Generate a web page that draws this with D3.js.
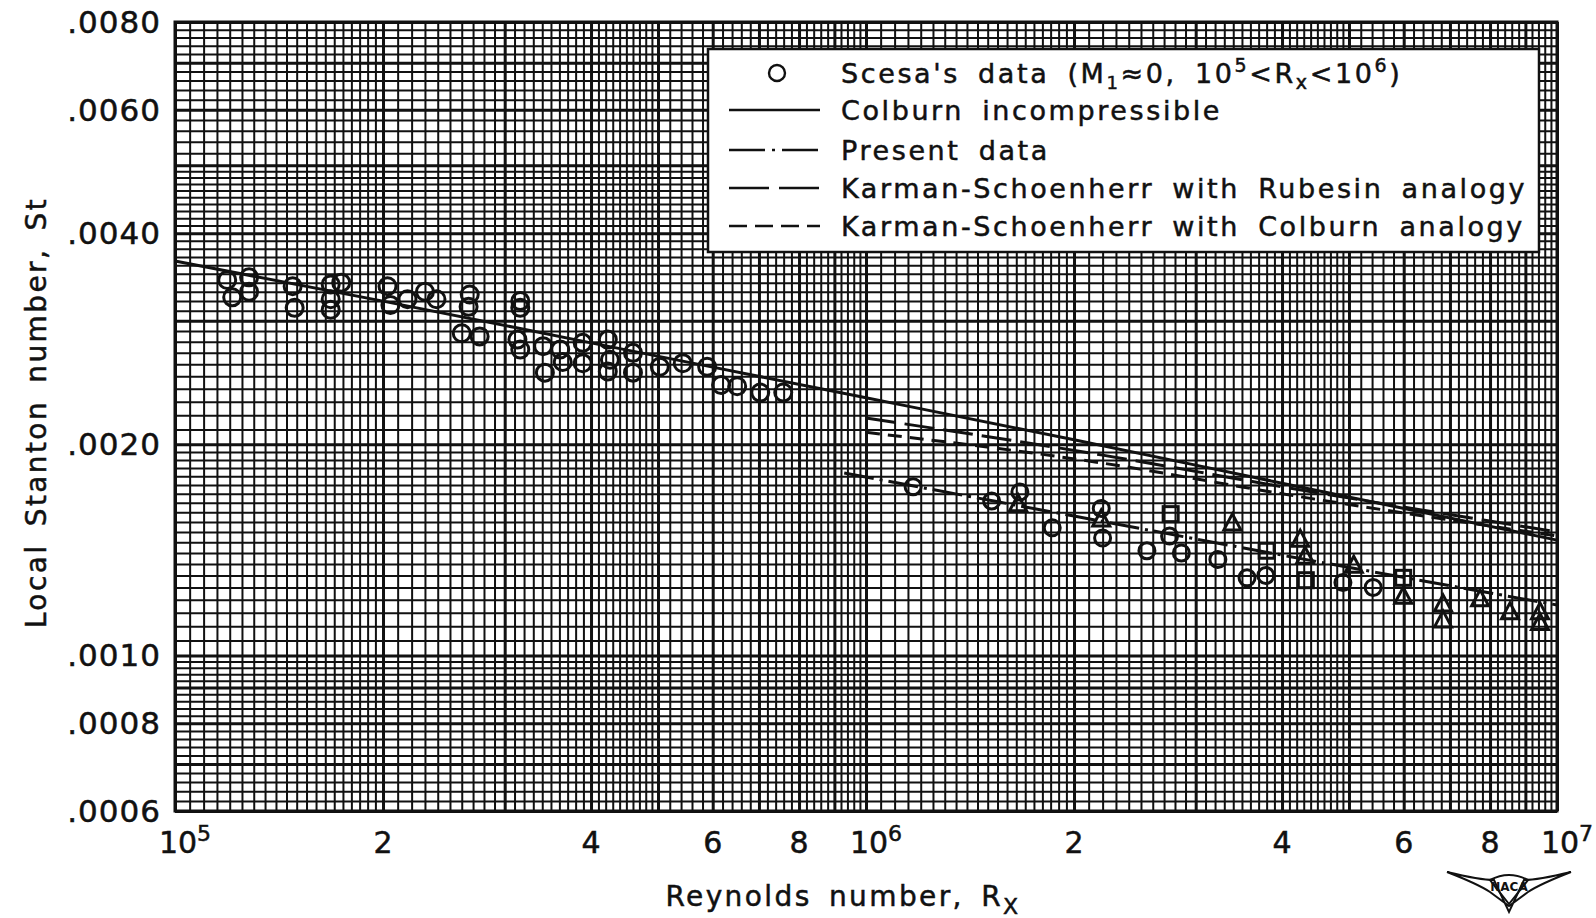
<!DOCTYPE html>
<html><head><meta charset="utf-8">
<script src="https://cdn.jsdelivr.net/npm/d3@7"></script>
<style>
body{margin:0;background:#fff;}
text{font-family:"DejaVu Sans",sans-serif;fill:#111;stroke:#111;stroke-width:0.5px;}
</style></head><body>
<svg id="c" width="1596" height="918"></svg>
<script>
// ---------------- data ----------------
const scesaRx = [1.19e5,1.21e5,1.28e5,1.28e5,1.48e5,1.49e5,1.68e5,1.68e5,1.68e5,1.74e5,2.03e5,2.05e5,2.17e5,2.30e5,2.39e5,2.67e5,2.66e5,3.16e5,3.16e5,2.60e5,2.76e5,3.13e5,3.16e5,3.41e5,3.43e5,3.61e5,3.64e5,3.89e5,3.89e5,4.23e5,4.26e5,4.23e5,4.60e5,4.60e5,5.03e5,5.43e5,5.89e5,6.17e5,6.51e5,7.03e5,7.59e5];
const scesaSt = [0.00343,0.00324,0.00346,0.00330,0.00336,0.00313,0.00338,0.00322,0.00311,0.00340,0.00336,0.00316,0.00322,0.00330,0.00322,0.00327,0.00314,0.00320,0.00313,0.00288,0.00285,0.00282,0.00273,0.00276,0.00253,0.00273,0.00262,0.00279,0.00261,0.00282,0.00264,0.00254,0.00270,0.00253,0.00258,0.00261,0.00258,0.00243,0.00242,0.00237,0.00237];

const presCircRx = [1.17e6,1.52e6,1.67e6,1.86e6,2.19e6,2.20e6,2.55e6,2.75e6,2.86e6,3.23e6,3.56e6,3.79e6,4.90e6,5.42e6];
const presCircSt = [0.00174,0.00166,0.00171,0.00152,0.00162,0.00147,0.00141,0.00148,0.00140,0.00137,0.00129,0.00130,0.00127,0.00125];
const presSqRx = [2.76e6,3.80e6,4.33e6,5.99e6];
const presSqSt = [0.00159,0.00141,0.00128,0.00129];
const presTriRx = [1.66e6,2.19e6,3.39e6,4.25e6,4.32e6,5.08e6,5.99e6,6.84e6,6.84e6,7.74e6,8.55e6,9.45e6,9.45e6];
const presTriSt = [0.00164,0.00156,0.00154,0.00146,0.00138,0.00134,0.00121,0.00118,0.00112,0.00120,0.00115,0.00115,0.00111];

const colburnRx = [1e5,2e5,4e5,1e6,2e6,4e6,1e7];
const colburnSt = [0.00365,0.00320,0.00279,0.00233,0.00203,0.00176,0.00146];
const ksRubRx = [1.0e6,2.2e6,4e6,1e7];
const ksRubSt = [0.00218,0.00193,0.00174,0.00150];
const ksColRx = [1.0e6,2.2e6,4e6,1e7];
const ksColSt = [0.00208,0.00188,0.00170,0.00148];
const presFitRx = [9.3e5,2e6,4e6,1e7];
const presFitSt = [0.00182,0.00158,0.00139,0.00118];

const yTickVals = [0.0006,0.0008,0.0010,0.0020,0.0040,0.0060,0.0080];
const yTickLabels = [".0006",".0008",".0010",".0020",".0040",".0060",".0080"];
const xTickVals = [1e5,2e5,4e5,6e5,8e5,1e6,2e6,4e6,6e6,8e6,1e7];
const xTickLabels = ["10|5","2","4","6","8","10|6","2","4","6","8","10|7"];

const legendLabels = ["Scesa's data","Colburn incompressible","Present data","Karman-Schoenherr with Rubesin analogy","Karman-Schoenherr with Colburn analogy"];

// ---------------- layout ----------------
const L=175, R=1557, T=22, B=811;
const svg = d3.select("#c");
const x = d3.scaleLog().domain([1e5,1e7]).range([L,R]);
const y = d3.scaleLog().domain([0.0006,0.008]).range([B,T]);

function paperLines(lo, hi){
  const out=[];
  for(let e=Math.floor(Math.log10(lo))-1; e<=Math.ceil(Math.log10(hi)); e++){
    const p=Math.pow(10,e);
    const push=(m,major)=>{const v=+(m*p).toPrecision(6); if(v>=lo*0.9999&&v<=hi*1.0001) out.push({v,major});};
    for(let i=0;i<20;i++) push(1+i*0.05, i===0);
    for(let i=0;i<30;i++) push(2+i*0.1, i%10===0);
    for(let i=0;i<25;i++) push(5+i*0.2, i%5===0);
  }
  return out;
}
const xl = paperLines(1e5,1e7), yl = paperLines(0.0006,0.008);
const xMaj = new Set(xl.filter(d=>d.major).map(d=>d.v));
const yMaj = new Set(yl.filter(d=>d.major).map(d=>d.v));

const gx = svg.append("g").attr("transform",`translate(0,${B})`)
  .call(d3.axisBottom(x).tickValues(xl.map(d=>d.v)).tickSize(-(B-T)).tickFormat(""));
gx.select(".domain").remove();
gx.selectAll(".tick line").attr("stroke","#111").attr("stroke-width",d=>xMaj.has(d)?3:2);

const gy = svg.append("g").attr("transform",`translate(${L},0)`)
  .call(d3.axisLeft(y).tickValues(yl.map(d=>d.v)).tickSize(-(R-L)).tickFormat(""));
gy.select(".domain").remove();
gy.selectAll(".tick line").attr("stroke","#111").attr("stroke-width",d=>yMaj.has(d)?3:2);

svg.append("rect").attr("x",L).attr("y",T).attr("width",R-L).attr("height",B-T)
  .attr("fill","none").attr("stroke","#111").attr("stroke-width",3);

// y tick labels
svg.append("g").selectAll("text").data(yTickVals).join("text")
  .attr("x",L-14).attr("y",d=>y(d)+11).attr("text-anchor","end")
  .attr("font-size",31).attr("letter-spacing",1)
  .text((d,i)=>yTickLabels[i]);

// x tick labels
const xt = svg.append("g").selectAll("text").data(xTickVals).join("text")
  .attr("x",(d,i)=>x(d) + (xTickLabels[i].includes("|")?10:0)).attr("y",B+42).attr("text-anchor","middle")
  .attr("font-size",30);
xt.each(function(d,i){
  const parts = xTickLabels[i].split("|");
  const t = d3.select(this);
  t.append("tspan").text(parts[0]);
  if(parts[1]) t.append("tspan").attr("dy",-12).attr("font-size",22).text(parts[1]);
});

// axis titles
const yt = svg.append("text").attr("transform",`translate(46,${(T+B)/2-4}) rotate(-90)`)
  .attr("text-anchor","middle").attr("font-size",28).attr("letter-spacing",2.4).attr("word-spacing",6);
yt.text("Local Stanton number, St");
const xtt = svg.append("text").attr("x",843).attr("y",906).attr("text-anchor","middle")
  .attr("font-size",28).attr("letter-spacing",2.4).attr("word-spacing",6);
xtt.append("tspan").text("Reynolds number, R");
xtt.append("tspan").attr("dy",8).attr("font-size",22).text("X");

// curves
const line = d3.line().x(d=>x(d[0])).y(d=>y(d[1])).curve(d3.curveMonotoneX);
const zip=(a,b)=>a.map((v,i)=>[v,b[i]]);
const curves = [
  {d:zip(colburnRx,colburnSt), dash:null},
  {d:zip(ksRubRx,ksRubSt), dash:"30,9"},
  {d:zip(ksColRx,ksColSt), dash:"14,8"},
  {d:zip(presFitRx,presFitSt), dash:"30,6,3,6"}
];
svg.append("g").selectAll("path").data(curves).join("path")
  .attr("d",c=>line(c.d)).attr("fill","none").attr("stroke","#111")
  .attr("stroke-width",3).attr("stroke-dasharray",c=>c.dash);

// markers
const mk = svg.append("g").attr("fill","none").attr("stroke","#111").attr("stroke-width",3);
mk.selectAll("circle.s").data(zip(scesaRx,scesaSt)).join("circle").attr("class","s")
  .attr("cx",d=>x(d[0])).attr("cy",d=>y(d[1])).attr("r",8.5);
mk.selectAll("circle.p").data(zip(presCircRx,presCircSt)).join("circle").attr("class","p")
  .attr("cx",d=>x(d[0])).attr("cy",d=>y(d[1])).attr("r",8);
mk.selectAll("rect.p").data(zip(presSqRx,presSqSt)).join("rect").attr("class","p")
  .attr("x",d=>x(d[0])-7.5).attr("y",d=>y(d[1])-7.5).attr("width",15).attr("height",15);
mk.selectAll("path.t").data(zip(presTriRx,presTriSt)).join("path").attr("class","t")
  .attr("d",d=>{const cx=x(d[0]),cy=y(d[1]);return `M${cx},${cy-10}L${cx+8.5},${cy+6}L${cx-8.5},${cy+6}Z`;});

// legend
const LX=708, LY=49, LW=831, LH=203;
svg.append("rect").attr("x",LX).attr("y",LY).attr("width",LW).attr("height",LH)
  .attr("fill","#fff").attr("stroke","#111").attr("stroke-width",2.5);
const rowsY=[73,110,150,188,226];
const dashes=[null,null,"36,7,3,7","40,10","18,8"];
const lg = svg.append("g");
lg.append("circle").attr("cx",777).attr("cy",rowsY[0]).attr("r",8).attr("fill","none").attr("stroke","#111").attr("stroke-width",2.4);
lg.selectAll("line").data([1,2,3,4]).join("line")
  .attr("x1",729).attr("x2",820).attr("y1",i=>rowsY[i]).attr("y2",i=>rowsY[i])
  .attr("stroke","#111").attr("stroke-width",2.4).attr("stroke-dasharray",i=>dashes[i]);
const lt = lg.selectAll("text").data(legendLabels).join("text")
  .attr("x",841).attr("y",(d,i)=>rowsY[i]+10).attr("font-size",27)
  .attr("letter-spacing",2.6).attr("word-spacing",7).text(d=>d);
const t0 = d3.select(lt.nodes()[0]);
t0.append("tspan").text(" (M");
t0.append("tspan").attr("dy",6).attr("font-size",18).text("1");
t0.append("tspan").attr("dy",-6).text("≈0, 10");
t0.append("tspan").attr("dy",-11).attr("font-size",19).text("5");
t0.append("tspan").attr("dy",11).text("<R");
t0.append("tspan").attr("dy",6).attr("font-size",19).text("x");
t0.append("tspan").attr("dy",-6).text("<10");
t0.append("tspan").attr("dy",-11).attr("font-size",19).text("6");
t0.append("tspan").attr("dy",11).text(")");

// NACA emblem
const em = svg.append("g").attr("fill","none").attr("stroke","#111").attr("stroke-width",2);
em.append("path").attr("d","M1447,872 Q1480,880 1494,880 L1509,912 L1524,880 Q1538,880 1571,872 Q1540,884 1528,892 L1509,906 L1490,892 Q1478,884 1447,872Z");
em.append("path").attr("d","M1490,880 Q1509,870 1528,880 L1509,904Z");
svg.append("text").attr("x",1509).attr("y",891).attr("text-anchor","middle").attr("font-size",12).attr("font-weight","bold").style("stroke-width","0px").text("NACA");
</script>
</body></html>
